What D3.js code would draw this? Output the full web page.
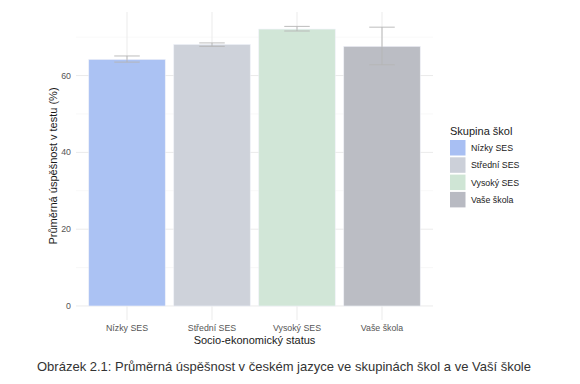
<!DOCTYPE html>
<html>
<head>
<meta charset="utf-8">
<script src="https://cdn.jsdelivr.net/npm/d3@7"></script>
<style>
  body { margin: 0; background: #fff; font-family: "Liberation Sans", Arial, sans-serif; }
</style>
</head>
<body>
<script>
// data
var categories = ['Nízky SES', 'Střední SES', 'Vysoký SES', 'Vaše škola'];
var means = [64.2, 68.1, 72.1, 67.6];
var lower = [63.5, 67.6, 71.6, 62.8];
var upper = [65.1, 68.5, 72.8, 72.6];
var fills = ['#a8bff3', '#ccd0d9', '#cfe5d5', '#b8bac2'];
var yTicks = [0, 20, 40, 60];
var yMinor = [10, 30, 50, 70];

var width = 580,
    height = 384;

var panel = {left: 76, right: 433, top: 12, bottom: 320};

var svg = d3.select('body').append('svg')
    .attr('width', width)
    .attr('height', height);

var y = d3.scaleLinear()
    .domain([-3.65, 76.55])
    .range([panel.bottom, panel.top]);

// ggplot style discrete axis: 0.6 expansion on each side
var x = d3.scaleLinear()
    .domain([0.4, categories.length + 0.6])
    .range([panel.left, panel.right]);

var g = svg.append('g');

// minor gridlines
g.selectAll('line.minor')
    .data(yMinor)
    .enter().append('line')
    .attr('x1', panel.left).attr('x2', panel.right)
    .attr('y1', function (d) { return y(d); })
    .attr('y2', function (d) { return y(d); })
    .style('stroke', '#f3f3f3')
    .style('stroke-width', 0.6);

// major gridlines
g.selectAll('line.major')
    .data(yTicks)
    .enter().append('line')
    .attr('x1', panel.left).attr('x2', panel.right)
    .attr('y1', function (d) { return y(d); })
    .attr('y2', function (d) { return y(d); })
    .style('stroke', '#ebebeb')
    .style('stroke-width', 1);

g.selectAll('line.vgrid')
    .data(categories)
    .enter().append('line')
    .attr('x1', function (d, i) { return x(i + 1); })
    .attr('x2', function (d, i) { return x(i + 1); })
    .attr('y1', panel.top).attr('y2', panel.bottom)
    .style('stroke', '#ebebeb')
    .style('stroke-width', 1);

// bars (semi transparent so the grid shows through)
var barW = x(1.45) - x(0.55);
g.selectAll('rect.bar')
    .data(means)
    .enter().append('rect')
    .attr('x', function (d, i) { return x(i + 1) - barW / 2; })
    .attr('y', function (d) { return y(d); })
    .attr('width', barW)
    .attr('height', function (d) { return y(0) - y(d); })
    .style('fill', function (d, i) { return fills[i]; })
    .style('fill-opacity', 0.96)
    .style('stroke', '#eef1f8')
    .style('stroke-width', 0.6);

// error bars
var whisk = (x(1.15) - x(0.85)) / 2;
var eb = g.selectAll('g.err')
    .data(categories)
    .enter().append('g')
    .attr('class', 'err')
    .style('stroke', '#b5b5b5')
    .style('stroke-width', 0.9);

eb.append('line')
    .attr('x1', function (d, i) { return x(i + 1); })
    .attr('x2', function (d, i) { return x(i + 1); })
    .attr('y1', function (d, i) { return y(upper[i]); })
    .attr('y2', function (d, i) { return y(lower[i]); });
eb.append('line')
    .attr('x1', function (d, i) { return x(i + 1) - whisk; })
    .attr('x2', function (d, i) { return x(i + 1) + whisk; })
    .attr('y1', function (d, i) { return y(upper[i]); })
    .attr('y2', function (d, i) { return y(upper[i]); });
eb.append('line')
    .attr('x1', function (d, i) { return x(i + 1) - whisk; })
    .attr('x2', function (d, i) { return x(i + 1) + whisk; })
    .attr('y1', function (d, i) { return y(lower[i]); })
    .attr('y2', function (d, i) { return y(lower[i]); });

// y tick labels
g.selectAll('text.ytick')
    .data(yTicks)
    .enter().append('text')
    .attr('x', panel.left - 5)
    .attr('y', function (d) { return y(d); })
    .attr('dy', '0.35em')
    .attr('text-anchor', 'end')
    .style('font-size', '8.8px')
    .style('fill', '#555')
    .text(function (d) { return d; });

// x tick labels
g.selectAll('text.xtick')
    .data(categories)
    .enter().append('text')
    .attr('x', function (d, i) { return x(i + 1); })
    .attr('y', 331)
    .attr('text-anchor', 'middle')
    .style('font-size', '8.8px')
    .style('fill', '#555')
    .text(function (d) { return d; });

// axis titles
svg.append('text')
    .attr('x', (panel.left + panel.right) / 2)
    .attr('y', 344)
    .attr('text-anchor', 'middle')
    .style('font-size', '11px')
    .style('fill', '#1a1a1a')
    .text('Socio-ekonomický status');

svg.append('text')
    .attr('transform', 'translate(57,' + ((panel.top + panel.bottom) / 2) + ') rotate(-90)')
    .attr('text-anchor', 'middle')
    .style('font-size', '11px')
    .style('fill', '#1a1a1a')
    .text('Průměrná úspěšnost v testu (%)');

// legend
var legend = svg.append('g').attr('transform', 'translate(450,0)');
legend.append('text')
    .attr('x', 0).attr('y', 135)
    .style('font-size', '11px')
    .style('fill', '#1a1a1a')
    .text('Skupina škol');

var item = legend.selectAll('g.item')
    .data(categories)
    .enter().append('g')
    .attr('transform', function (d, i) { return 'translate(0,' + (140 + i * 17.3) + ')'; });

item.append('rect')
    .attr('width', 15.5).attr('height', 15.5)
    .style('fill', function (d, i) { return fills[i]; });

item.append('text')
    .attr('x', 21).attr('y', 8)
    .attr('dy', '0.35em')
    .style('font-size', '8.8px')
    .style('fill', '#1a1a1a')
    .text(function (d) { return d; });

// caption
svg.append('text')
    .attr('x', 284).attr('y', 371)
    .attr('text-anchor', 'middle')
    .style('font-size', '13px')
    .style('fill', '#333')
    .text('Obrázek 2.1: Průměrná úspěšnost v českém jazyce ve skupinách škol a ve Vaší škole');
</script>
</body>
</html>
